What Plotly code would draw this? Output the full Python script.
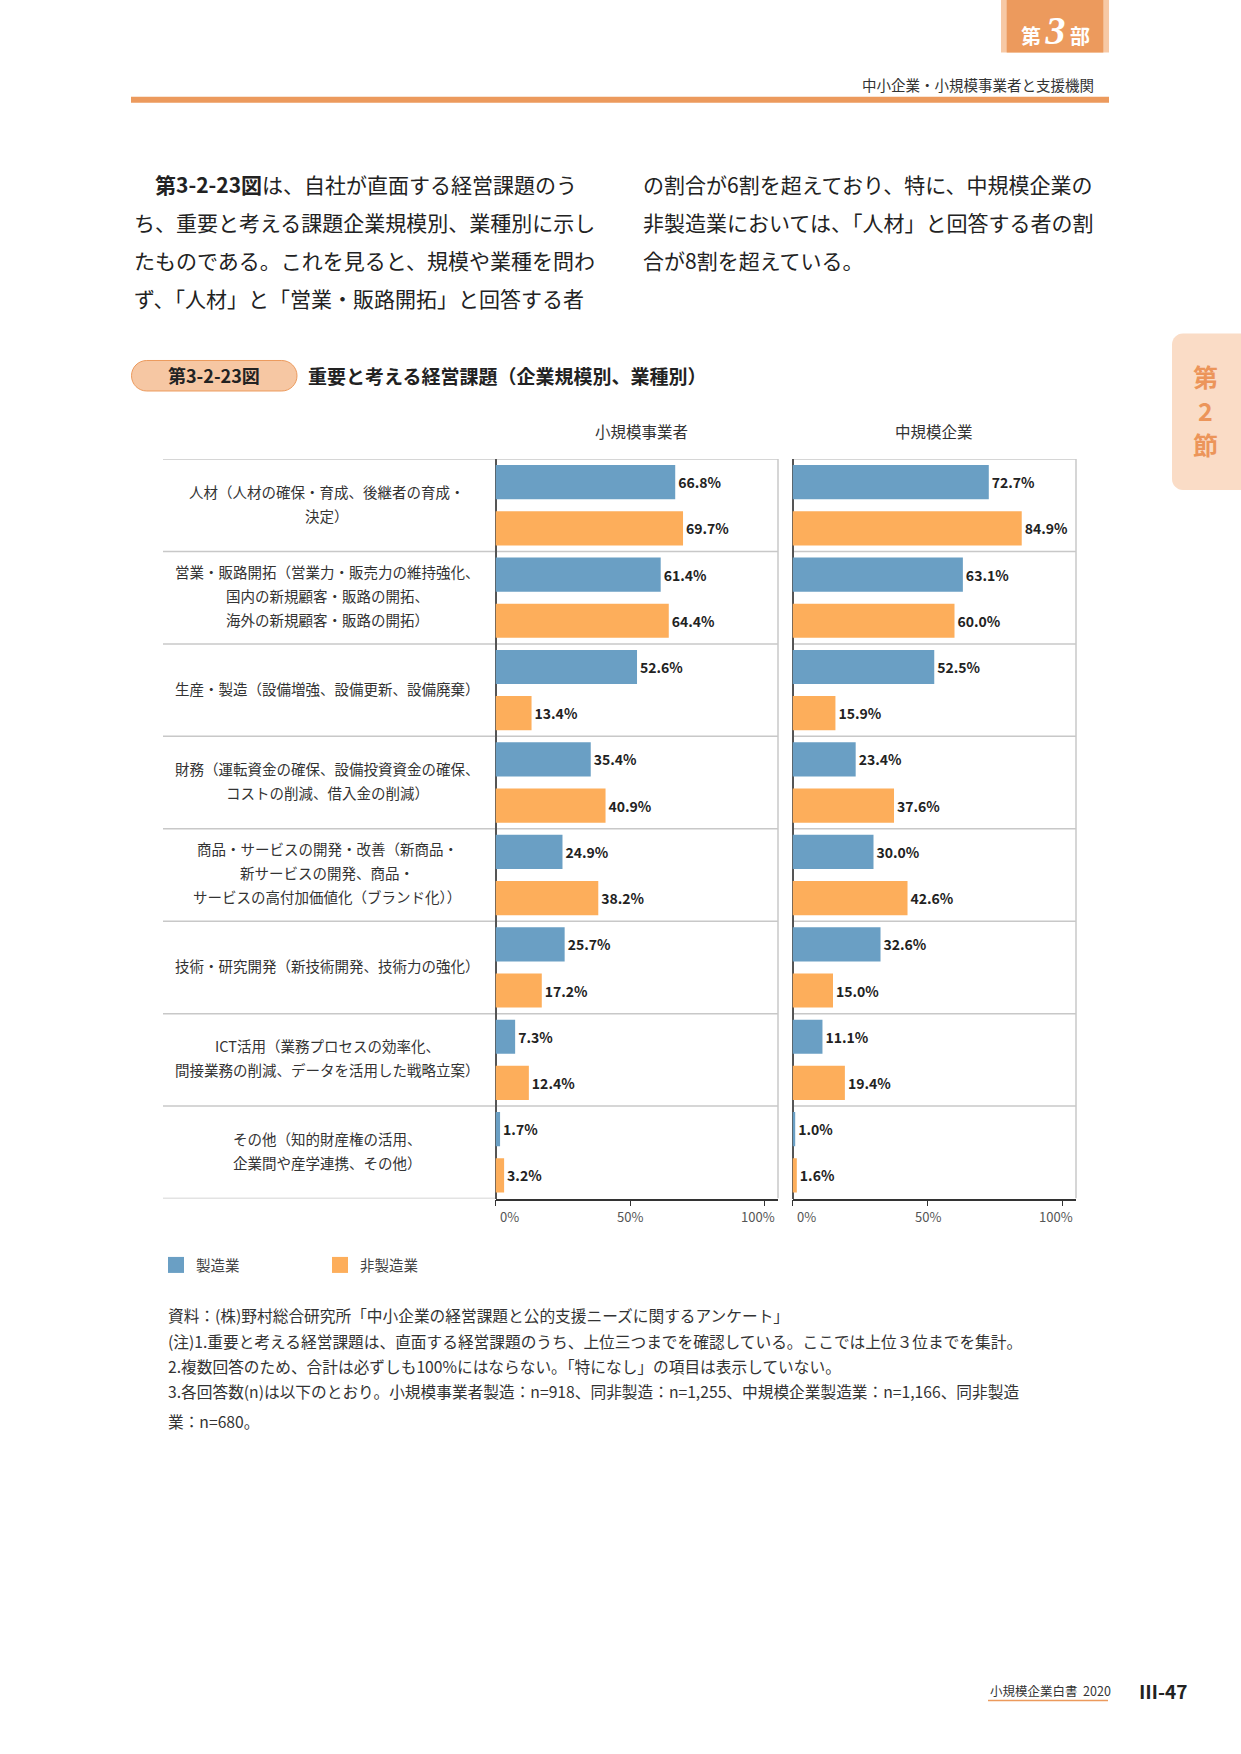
import plotly.graph_objects as go

W, H = 1241, 1754

# ---------------- data ----------------
categories = [
    "人材（人材の確保・育成、後継者の育成・<br>決定）",
    "営業・販路開拓（営業力・販売力の維持強化、<br>国内の新規顧客・販路の開拓、<br>海外の新規顧客・販路の開拓）",
    "生産・製造（設備増強、設備更新、設備廃棄）",
    "財務（運転資金の確保、設備投資資金の確保、<br>コストの削減、借入金の削減）",
    "商品・サービスの開発・改善（新商品・<br>新サービスの開発、商品・<br>サービスの高付加価値化（ブランド化））",
    "技術・研究開発（新技術開発、技術力の強化）",
    "ICT活用（業務プロセスの効率化、<br>間接業務の削減、データを活用した戦略立案）",
    "その他（知的財産権の活用、<br>企業間や産学連携、その他）",
]
small_mfg = [66.8, 61.4, 52.6, 35.4, 24.9, 25.7, 7.3, 1.7]
small_non = [69.7, 64.4, 13.4, 40.9, 38.2, 17.2, 12.4, 3.2]
mid_mfg = [72.7, 63.1, 52.5, 23.4, 30.0, 32.6, 11.1, 1.0]
mid_non = [84.9, 60.0, 15.9, 37.6, 42.6, 15.0, 19.4, 1.6]
series_names = ["製造業", "非製造業"]
panel_titles = ["小規模事業者", "中規模企業"]
tick_vals = [0, 50, 100]
tick_labels = ["0%", "50%", "100%"]

body_left = [
    "　<b>第3-2-23図</b>は、自社が直面する経営課題のう",
    "ち、重要と考える課題企業規模別、業種別に示し",
    "たものである。これを見ると、規模や業種を問わ",
    "ず、「人材」と「営業・販路開拓」と回答する者",
]
body_right = [
    "の割合が6割を超えており、特に、中規模企業の",
    "非製造業においては、「人材」と回答する者の割",
    "合が8割を超えている。",
]
notes = [
    "資料：(株)野村総合研究所「中小企業の経営課題と公的支援ニーズに関するアンケート」",
    "(注)1.重要と考える経営課題は、直面する経営課題のうち、上位三つまでを確認している。ここでは上位３位までを集計。",
    "2.複数回答のため、合計は必ずしも100%にはならない。「特になし」の項目は表示していない。",
    "3.各回答数(n)は以下のとおり。小規模事業者製造：n=918、同非製造：n=1,255、中規模企業製造業：n=1,166、同非製造",
    "業：n=680。",
]

# ---------------- styles ----------------
BLUE = "#6A9FC4"
ORANGE = "#FDAE5B"
HDR = "#EC9A5D"
FONT = "Noto Sans CJK JP"
GRID = "#C8C8C8"


def px(x):
    return x / W


def py(y):
    return 1 - y / H


fig = go.Figure()

colors = [BLUE, ORANGE]
panels = [("x", small_mfg, small_non), ("x2", mid_mfg, mid_non)]
for i, (xa, mfg, non) in enumerate(panels):
    for name, vals, color in [(series_names[0], mfg, BLUE), (series_names[1], non, ORANGE)]:
        fig.add_trace(go.Bar(
            y=categories, x=vals, orientation="h", name=name,
            marker=dict(color=color, line=dict(width=0)),
            text=[f"{v:.1f}%" for v in vals], textposition="outside",
            textfont=dict(family=FONT, size=14, color="#222", weight="bold"),
            constraintext="none", cliponaxis=False,
            xaxis=xa, yaxis="y", showlegend=False, legendgroup=name,
            hoverinfo="skip",
        ))

# legend keys (square swatches, same series names/colours as the bars)
for name, color in zip(series_names, colors):
    fig.add_trace(go.Scatter(
        x=[None], y=[None], mode="markers", name=name, legendgroup=name,
        marker=dict(symbol="square", size=17, color=color, line=dict(width=0)),
        xaxis="x", yaxis="y", hoverinfo="skip", showlegend=True,
    ))

axis_common = dict(
    range=[0, 105], anchor="y", showgrid=False,
    zeroline=True, zerolinecolor="#555", zerolinewidth=1.5,
    showline=True, linecolor="#333", linewidth=1.5,
    ticks="outside", ticklen=6, tickcolor="#333", tickwidth=1,
    tickvals=tick_vals, showticklabels=False, fixedrange=True,
)
fig.update_layout(
    xaxis=dict(domain=[px(495.5), px(778)], **axis_common),
    xaxis2=dict(domain=[px(792.5), px(1076)], **axis_common),
    yaxis=dict(domain=[py(1198.5), py(459)], type="category",
               categoryorder="array", categoryarray=categories,
               range=[len(categories) - 0.5, -0.5],
               showticklabels=False, showgrid=False, zeroline=False,
               showline=False, ticks="", fixedrange=True),
    barmode="group", bargap=0.0, bargroupgap=0.26,
)

shapes = []
ann = []

# category separators
n = len(categories)
for k in range(n + 1):
    yb = k - 0.5
    shapes.append(dict(type="line", xref="paper", yref="y", x0=px(163), x1=px(495.5),
                       y0=yb, y1=yb, line=dict(color=GRID, width=1.5), layer="below"))
    if k < n:
        for xa in ["x", "x2"]:
            shapes.append(dict(type="line", xref=f"{xa} domain", yref="y", x0=0, x1=1,
                               y0=yb, y1=yb, line=dict(color=GRID, width=1.5), layer="below"))
for xa in ["x", "x2"]:
    shapes.append(dict(type="line", xref=f"{xa} domain", yref="y", x0=1, x1=1,
                       y0=-0.5, y1=n - 0.5, line=dict(color=GRID, width=1.5), layer="below"))

# category labels
for cat in categories:
    lines = cat.split("<br>")
    m = len(lines)
    for j, ln in enumerate(lines):
        ann.append(dict(x=px(327), xref="paper", y=cat, yref="y", text=ln,
                        yshift=-(j - (m - 1) / 2) * 24 + 2, showarrow=False,
                        xanchor="center", yanchor="middle",
                        font=dict(family=FONT, size=14.5, color="#333")))

# x tick labels
for xa in ["x", "x2"]:
    for idx, (v, t) in enumerate(zip(tick_vals, tick_labels)):
        if idx == 0:
            anchor, shift = "left", 2
        elif idx == len(tick_vals) - 1:
            anchor, shift = "right", 12
        else:
            anchor, shift = "center", 0
        ann.append(dict(x=v, xref=xa, y=py(1216.5), yref="paper", text=t,
                        xanchor=anchor, yanchor="middle", xshift=shift, showarrow=False,
                        font=dict(family=FONT, size=13, color="#555")))

# panel titles
for t, cx in zip(panel_titles, [641, 934]):
    ann.append(dict(x=px(cx), xref="paper", y=py(431), yref="paper", text=t,
                    xanchor="center", yanchor="middle", showarrow=False,
                    font=dict(family=FONT, size=15.5, color="#333")))


def txt(x, y, text, size, color="#333", anchor="left", family=FONT):
    ann.append(dict(x=px(x), xref="paper", y=py(y), yref="paper", text=text,
                    xanchor=anchor, yanchor="middle", showarrow=False,
                    font=dict(family=family, size=size, color=color)))


# header tab
shapes.append(dict(type="rect", xref="paper", yref="paper", x0=px(1001), x1=px(1109),
                   y0=py(52.5), y1=py(-2), fillcolor="#F7C9A5", line=dict(width=0)))
shapes.append(dict(type="rect", xref="paper", yref="paper", x0=px(1006.7), x1=px(1103.3),
                   y0=py(52.5), y1=py(-2), fillcolor=HDR, line=dict(width=0)))
txt(1055, 31, "<b>第</b> <span style='font-family:Liberation Serif;font-size:40px'><b><i>3</i></b></span> <b>部</b>",
    20, color="white", anchor="center")
txt(1096, 85, "中小企業・小規模事業者と支援機関", 14.5, color="#333", anchor="right")
shapes.append(dict(type="rect", xref="paper", yref="paper", x0=px(131), x1=px(1109),
                   y0=py(102.7), y1=py(96.7), fillcolor=HDR, line=dict(width=0)))

# body text
for i, ln in enumerate(body_left):
    txt(132, 184 + i * 38, ln, 21, color="#222")
for i, ln in enumerate(body_right):
    txt(641, 184 + i * 38, ln, 21, color="#222")


# figure title pill
def pill(x0, y0, x1, y1):
    r = (y1 - y0) / 2
    k = 0.5523 * r
    ym = (y0 + y1) / 2
    P = lambda a, b: f"{px(a):.6f},{py(b):.6f}"
    return (f"M{P(x0 + r, y0)} L{P(x1 - r, y0)} C{P(x1 - r + k, y0)} {P(x1, ym - k)} {P(x1, ym)} "
            f"C{P(x1, ym + k)} {P(x1 - r + k, y1)} {P(x1 - r, y1)} L{P(x0 + r, y1)} "
            f"C{P(x0 + r - k, y1)} {P(x0, ym + k)} {P(x0, ym)} C{P(x0, ym - k)} {P(x0 + r - k, y0)} {P(x0 + r, y0)} Z")


shapes.append(dict(type="path", xref="paper", yref="paper", path=pill(131.5, 360.5, 297, 391),
                   fillcolor="#F6C7A3", line=dict(color=HDR, width=1)))
txt(214, 375.5, "<b>第3-2-23図</b>", 18, color="#222", anchor="center")
txt(306, 375.5, "<b>重要と考える経営課題（企業規模別、業種別）</b>", 19, color="#222")


# side tab
def side_tab(x0, y0, x1, y1, r=11):
    k = 0.5523 * r
    P = lambda a, b: f"{px(a):.6f},{py(b):.6f}"
    return (f"M{P(x0 + r, y0)} L{P(x1, y0)} L{P(x1, y1)} L{P(x0 + r, y1)} "
            f"C{P(x0 + r - k, y1)} {P(x0, y1 - r + k)} {P(x0, y1 - r)} L{P(x0, y0 + r)} "
            f"C{P(x0, y0 + r - k)} {P(x0 + r - k, y0)} {P(x0 + r, y0)} Z")


shapes.append(dict(type="path", xref="paper", yref="paper", path=side_tab(1172, 333.5, 1245, 490),
                   fillcolor="#FADCC6", line=dict(width=0)))
for ch, yy in zip(["第", "2", "節"], [376, 410, 444]):
    txt(1205, yy, f"<b>{ch}</b>", 25, color="#EC955A", anchor="center")

# notes
note_y = [1315, 1341, 1366, 1391.5, 1421.5]
for ln, yy in zip(notes, note_y):
    txt(166, yy, ln, 15.7, color="#333")

# footer
txt(988, 1690, "小規模企業白書&nbsp;&nbsp;2020", 12.5, color="#333")
shapes.append(dict(type="line", xref="paper", yref="paper", x0=px(988), x1=px(1108),
                   y0=py(1700.5), y1=py(1700.5), line=dict(color=HDR, width=1.5)))
txt(1137, 1690, "<b>Ⅲ-47</b>", 19, color="#222")

fig.update_layout(
    width=W, height=H, margin=dict(l=0, r=0, t=0, b=0),
    paper_bgcolor="white", plot_bgcolor="white",
    font=dict(family=FONT, color="#333"),
    shapes=shapes, annotations=ann,
    showlegend=True,
    legend=dict(orientation="h", x=px(156), y=py(1249), xanchor="left", yanchor="top",
                font=dict(family=FONT, size=14.5, color="#444"),
                itemsizing="trace",
                entrywidth=119, entrywidthmode="pixels", bgcolor="rgba(0,0,0,0)",
                itemclick=False, itemdoubleclick=False),
)

fig.write_html("out.html")
